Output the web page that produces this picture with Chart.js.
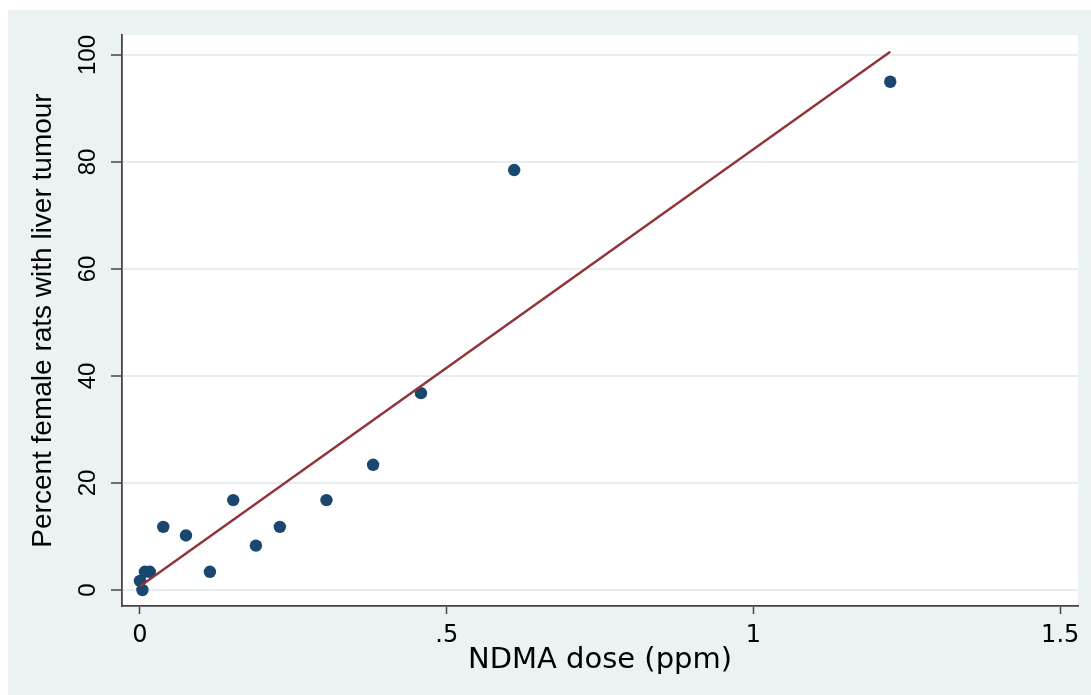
<!DOCTYPE html>
<html>
<head>
<meta charset="utf-8">
<script src="https://cdn.jsdelivr.net/npm/chart.js@4.4.1/dist/chart.umd.min.js"></script>
<style>
  html, body { margin: 0; padding: 0; background: #ffffff; }
  #wrap { width: 1091px; height: 695px; }
</style>
</head>
<body>
<div id="wrap"><canvas id="c" width="1091" height="695"></canvas></div>
<script>
// ---- data ----
const doseX      = [0, 0.004, 0.008, 0.016, 0.038, 0.075, 0.114, 0.152, 0.189, 0.228, 0.304, 0.380, 0.458, 0.610, 1.223];
const tumourPct  = [1.7, 0,   3.4,   3.4,   11.8,  10.2,  3.4,   16.8,  8.3,   11.8,  16.8,  23.4,  36.8,  78.5,  95.0];
const fitX       = [0, 1.223];
const fitY       = [0.7, 100.6];
const xTicks     = [0, 0.5, 1, 1.5];
const xTickLabels = ['0', '.5', '1', '1.5'];
const yTicks     = [0, 20, 40, 60, 80, 100];
const yTickLabels = ['0', '20', '40', '60', '80', '100'];
const xTitle = 'NDMA dose (ppm)';
const yTitle = 'Percent female rats with liver tumour';

const NAVY = '#1a476f';
const MAROON = '#90353b';
const BG = '#eaf2f3';
const AXIS = '#444444';

const scatterPts = doseX.map((x, i) => ({ x: x, y: tumourPct[i] }));
const fitPts = fitX.map((x, i) => ({ x: x, y: fitY[i] }));

const bgPlugin = {
  id: 'bg',
  beforeDraw(chart) {
    const ctx = chart.ctx;
    const a = chart.chartArea;
    ctx.save();
    ctx.fillStyle = '#ffffff';
    ctx.fillRect(0, 0, chart.width, chart.height);
    ctx.fillStyle = BG;
    ctx.fillRect(8, 10, chart.width - 8, chart.height - 10);
    ctx.fillStyle = '#ffffff';
    ctx.fillRect(a.left, a.top, a.right - a.left, a.bottom - a.top);
    ctx.restore();
  }
};

new Chart(document.getElementById('c'), {
  type: 'scatter',
  data: {
    datasets: [
      {
        label: 'fit',
        data: fitPts,
        showLine: true,
        borderColor: MAROON,
        borderWidth: 2.5,
        pointRadius: 0,
        fill: false,
        order: 0
      },
      {
        label: 'obs',
        data: scatterPts,
        backgroundColor: NAVY,
        borderColor: NAVY,
        borderWidth: 0,
        pointRadius: 6.2,
        order: 1
      }
    ]
  },
  plugins: [bgPlugin],
  options: {
    responsive: false,
    animation: false,
    devicePixelRatio: 1,
    layout: { padding: { top: 35, right: 13, left: 0, bottom: 0 } },
    plugins: { legend: { display: false }, tooltip: { enabled: false } },
    scales: {
      x: {
        type: 'linear',
        min: -0.0293,
        max: 1.529,
        afterFit(scale) { scale.height = 89; },
        afterBuildTicks(scale) { scale.ticks = xTicks.map(v => ({ value: v })); },
        grid: { drawOnChartArea: false, drawTicks: true, tickLength: 8, tickColor: AXIS, tickWidth: 1.5 },
        border: { display: true, color: AXIS, width: 1.8 },
        ticks: {
          color: '#000',
          padding: 7,
          maxRotation: 0,
          autoSkip: false,
          font: { family: 'DejaVu Sans', size: 24 },
          callback(value) { const i = xTicks.indexOf(value); return i >= 0 ? xTickLabels[i] : ''; }
        },
        title: {
          display: true,
          text: xTitle,
          color: '#000',
          font: { family: 'DejaVu Sans', size: 29 },
          padding: { top: 0, bottom: 17 }
        }
      },
      y: {
        type: 'linear',
        min: -2.99,
        max: 103.74,
        afterFit(scale) { scale.width = 122; },
        afterBuildTicks(scale) { scale.ticks = yTicks.map(v => ({ value: v })); },
        grid: { color: '#e6eef0', lineWidth: 2, drawTicks: true, tickLength: 11, tickColor: AXIS, tickWidth: 1.5 },
        border: { display: true, color: AXIS, width: 1.8 },
        ticks: {
          color: '#000',
          padding: 3,
          minRotation: 90,
          maxRotation: 90,
          crossAlign: 'center',
          autoSkip: false,
          font: { family: 'Liberation Sans', size: 24 },
          callback(value) { const i = yTicks.indexOf(value); return i >= 0 ? yTickLabels[i] : ''; }
        },
        title: {
          display: true,
          text: yTitle,
          color: '#000',
          font: { family: 'Liberation Sans', size: 28 },
          padding: { top: 26, bottom: 0 }
        }
      }
    }
  }
});
</script>
</body>
</html>
